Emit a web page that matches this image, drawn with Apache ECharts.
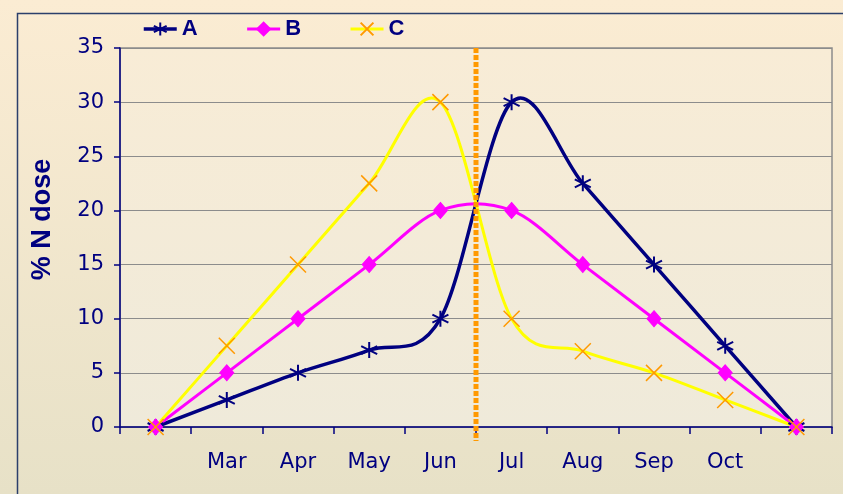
<!DOCTYPE html>
<html>
<head>
<meta charset="utf-8">
<script src="https://cdn.jsdelivr.net/npm/echarts@6/dist/echarts.min.js"></script>
<style>
html,body{margin:0;padding:0;}
#chart{width:843px;height:494px;}
</style>
</head>
<body>
<div id="chart"></div>
<script>
// ---- data ----
const categories = ['', 'Mar', 'Apr', 'May', 'Jun', 'Jul', 'Aug', 'Sep', 'Oct', ''];
const seriesA = [0, 2.5, 5, 7.1, 10, 30, 22.5, 15, 7.5, 0];
const seriesB = [0, 5, 10, 15, 20, 20, 15, 10, 5, 0];
const seriesC = [0, 7.5, 15, 22.5, 30, 10, 7, 5, 2.5, 0];
const seriesNames = ['A', 'B', 'C'];
// vertical reference line between Jun and Jul (category index units)
const refLine = [[4.5, 35], [4.5, -1.3]];
const yMin = 0, yMax = 35, yStep = 5;

const navy = '#000080';
const colA = navy, colB = '#FF00FF', colC = '#FFFF00', colCMark = '#FF9900';
const starPath = 'path://M0,-10L0,10M-8.66,-5L8.66,5M-8.66,5L8.66,-5';
const crossPath = 'path://M-10,-10L10,10M-10,10L10,-10';

// Excel-like (Catmull-Rom) smoothing through the points, positioned via the axes
function splineRenderer(values, color, width) {
  return function (params, api) {
    const pts = values.map((v, i) => api.coord([i, v]));
    const t = 1 / 6;
    let d = 'M' + pts[0][0] + ' ' + pts[0][1];
    for (let i = 0; i < pts.length - 1; i++) {
      const p0 = pts[Math.max(i - 1, 0)], p1 = pts[i], p2 = pts[i + 1], p3 = pts[Math.min(i + 2, pts.length - 1)];
      const c1 = [p1[0] + (p2[0] - p0[0]) * t, p1[1] + (p2[1] - p0[1]) * t];
      const c2 = [p2[0] - (p3[0] - p1[0]) * t, p2[1] - (p3[1] - p1[1]) * t];
      d += ' C' + c1[0] + ' ' + c1[1] + ' ' + c2[0] + ' ' + c2[1] + ' ' + p2[0] + ' ' + p2[1];
    }
    return {type: 'path', shape: {pathData: d}, style: {fill: 'none', stroke: color, lineWidth: width, lineJoin: 'round'}};
  };
}

const chart = echarts.init(document.getElementById('chart'));
chart.setOption({
  animation: false,
  backgroundColor: new echarts.graphic.LinearGradient(0, 0, 0, 1, [
    {offset: 0, color: '#FBECD3'}, {offset: 1, color: '#E7E1C7'}
  ]),
  graphic: [{
    type: 'rect', left: 15, top: 11, z: -1,
    shape: {width: 900, height: 600},
    style: {fill: 'none', stroke: '#2B3F6B', lineWidth: 1.5}
  }],
  legend: {
    data: [
      {name: 'A', lineStyle: {color: colA, width: 3.5, opacity: 1}},
      {name: 'B', lineStyle: {color: colB, width: 3, opacity: 1}},
      {name: 'C', lineStyle: {color: colC, width: 3, opacity: 1}}
    ],
    left: 137, top: 13,
    itemWidth: 33, itemHeight: 16, itemGap: 48,
    textStyle: {color: navy, fontFamily: 'Liberation Sans Narrow, Liberation Sans, Arial', fontWeight: 'bold', fontSize: 22}
  },
  grid: {
    left: 120, top: 48, right: 11, bottom: 67,
    show: true,
    borderColor: '#8C8C8C', borderWidth: 1.5,
    backgroundColor: new echarts.graphic.LinearGradient(0, 0, 0, 1, [
      {offset: 0, color: '#F8ECD6'}, {offset: 1, color: '#EFEADA'}
    ])
  },
  xAxis: [{
    type: 'category', data: categories, boundaryGap: true,
    axisLine: {onZero: false, lineStyle: {color: navy, width: 1.5}},
    axisTick: {show: true, length: 7, interval: 0, lineStyle: {color: navy, width: 1.5}},
    axisLabel: {color: navy, fontFamily: 'DejaVu Sans', fontSize: 21, margin: 25, interval: 0},
    splitLine: {show: false}
  }, {
    type: 'value', min: -0.5, max: 9.5, show: false
  }],
  yAxis: {
    type: 'value', min: yMin, max: yMax, interval: yStep,
    name: '% N dose', nameLocation: 'middle', nameGap: 64,
    nameTextStyle: {color: navy, fontFamily: 'Liberation Sans, Arial', fontWeight: 'bold', fontSize: 27, padding: [0, 0, 0, 36]},
    axisLine: {show: true, onZero: false, lineStyle: {color: navy, width: 1.5}},
    axisTick: {show: true, length: 6, lineStyle: {color: navy, width: 1.5}},
    axisLabel: {color: navy, fontFamily: 'DejaVu Sans', fontSize: 21, margin: 16},
    splitLine: {lineStyle: {color: '#8C8C8C', width: 1}}
  },
  series: [{
    name: 'curveA', type: 'custom', data: [[0, 0]], z: 1, silent: true,
    renderItem: splineRenderer(seriesA, colA, 3.5)
  }, {
    name: 'curveB', type: 'custom', data: [[0, 0]], z: 1, silent: true,
    renderItem: splineRenderer(seriesB, colB, 3)
  }, {
    name: 'curveC', type: 'custom', data: [[0, 0]], z: 1, silent: true,
    renderItem: splineRenderer(seriesC, colC, 3)
  }, {
    name: 'A', type: 'line', data: seriesA,
    symbol: starPath, symbolSize: 16,
    lineStyle: {color: colA, width: 0, opacity: 0},
    itemStyle: {color: colA, borderColor: colA, borderWidth: 2}
  }, {
    name: 'B', type: 'line', data: seriesB,
    symbol: 'diamond', symbolSize: [14, 16],
    lineStyle: {color: colB, width: 0, opacity: 0},
    itemStyle: {color: colB, borderColor: colB, borderWidth: 1}
  }, {
    name: 'C', type: 'line', data: seriesC,
    symbol: crossPath, symbolSize: 16,
    lineStyle: {color: colC, width: 0, opacity: 0},
    itemStyle: {color: colCMark, borderColor: colCMark, borderWidth: 1.5}
  }, {
    name: 'ref', type: 'line', xAxisIndex: 1, data: refLine,
    symbol: 'none', clip: false, silent: true, z: 5,
    lineStyle: {color: '#FF9900', width: 5, type: [5, 2]}
  }]
});
</script>
</body>
</html>
